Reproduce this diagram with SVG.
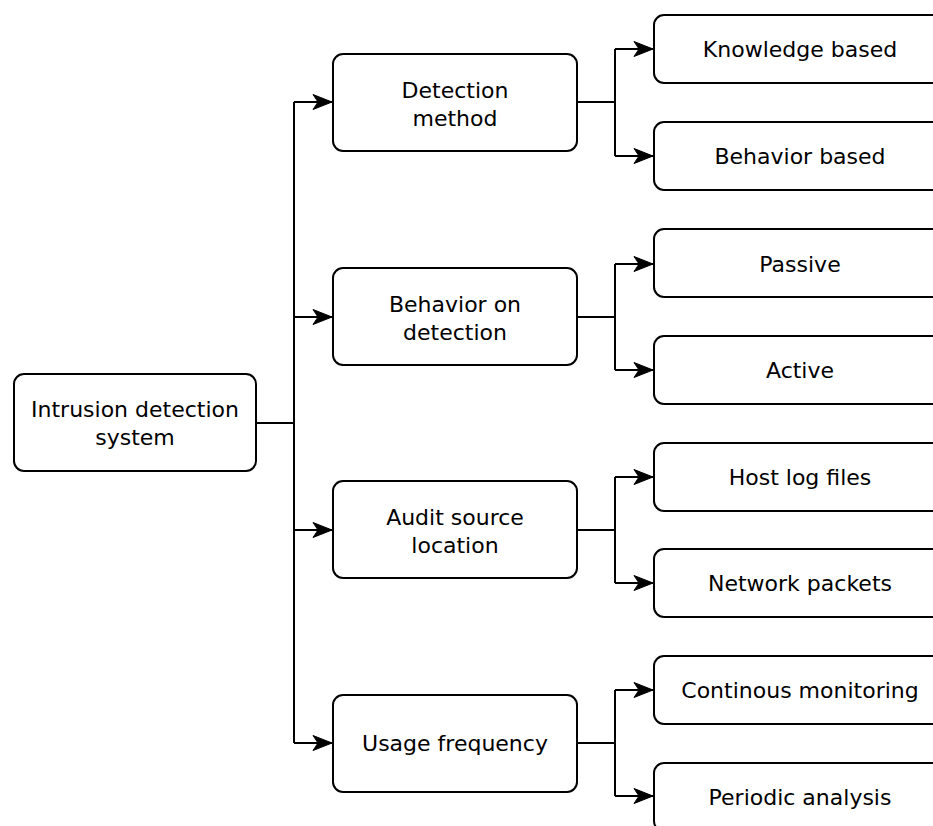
<svg xmlns="http://www.w3.org/2000/svg" width="933" height="826" viewBox="0 0 933 826">
  <style>
    .box { fill: #ffffff; stroke: #000000; stroke-width: 2; }
    .lbl { font-family: "DejaVu Sans", Verdana, sans-serif; font-size: 22px; fill: #000000; text-anchor: middle; }
    .edge { fill: none; stroke: #000000; stroke-width: 2; }
  </style>
  <defs>
    <marker id="arrow" viewBox="0 0 21 17" refX="20" refY="8.5" markerWidth="21" markerHeight="17" markerUnits="userSpaceOnUse" orient="auto">
      <path d="M1,1 L20,8.5 L1,16 L6,8.5 Z" fill="#000000" stroke="#000000" stroke-width="1"/>
    </marker>
  </defs>

  <g id="connectors">
    <!-- root to categories -->
    <path class="edge" d="M256,423 H294"/>
    <path class="edge" d="M294,102 V743"/>
    <path class="edge" d="M294,102 H332" marker-end="url(#arrow)"/>
    <path class="edge" d="M294,317 H332" marker-end="url(#arrow)"/>
    <path class="edge" d="M294,530 H332" marker-end="url(#arrow)"/>
    <path class="edge" d="M294,743 H332" marker-end="url(#arrow)"/>
    <!-- Detection method -->
    <path class="edge" d="M577,102 H615 M615,49 V156"/>
    <path class="edge" d="M615,49 H653" marker-end="url(#arrow)"/>
    <path class="edge" d="M615,156 H653" marker-end="url(#arrow)"/>
    <!-- Behavior on detection -->
    <path class="edge" d="M577,317 H615 M615,264 V370"/>
    <path class="edge" d="M615,264 H653" marker-end="url(#arrow)"/>
    <path class="edge" d="M615,370 H653" marker-end="url(#arrow)"/>
    <!-- Audit source location -->
    <path class="edge" d="M577,530 H615 M615,477 V583"/>
    <path class="edge" d="M615,477 H653" marker-end="url(#arrow)"/>
    <path class="edge" d="M615,583 H653" marker-end="url(#arrow)"/>
    <!-- Usage frequency -->
    <path class="edge" d="M577,743 H615 M615,690 V796"/>
    <path class="edge" d="M615,690 H653" marker-end="url(#arrow)"/>
    <path class="edge" d="M615,796 H653" marker-end="url(#arrow)"/>
  </g>

  <g id="ids">
    <rect class="box" x="14" y="374" width="242" height="97" rx="10"/>
    <text class="lbl" x="135" y="417">Intrusion detection</text>
    <text class="lbl" x="135" y="445">system</text>
  </g>

  <g id="detection-method">
    <rect class="box" x="333" y="54" width="244" height="97" rx="10"/>
    <text class="lbl" x="455" y="98">Detection</text>
    <text class="lbl" x="455" y="126">method</text>
  </g>
  <g id="behavior-on-detection">
    <rect class="box" x="333" y="268" width="244" height="97" rx="10"/>
    <text class="lbl" x="455" y="312">Behavior on</text>
    <text class="lbl" x="455" y="340">detection</text>
  </g>
  <g id="audit-source-location">
    <rect class="box" x="333" y="481" width="244" height="97" rx="10"/>
    <text class="lbl" x="455" y="525">Audit source</text>
    <text class="lbl" x="455" y="553">location</text>
  </g>
  <g id="usage-frequency">
    <rect class="box" x="333" y="695" width="244" height="97" rx="10"/>
    <text class="lbl" x="455" y="751">Usage frequency</text>
  </g>

  <g id="knowledge-based">
    <rect class="box" x="654" y="15" width="292" height="68" rx="10"/>
    <text class="lbl" x="800" y="57">Knowledge based</text>
  </g>
  <g id="behavior-based">
    <rect class="box" x="654" y="122" width="292" height="68" rx="10"/>
    <text class="lbl" x="800" y="164">Behavior based</text>
  </g>
  <g id="passive">
    <rect class="box" x="654" y="229" width="292" height="68" rx="10"/>
    <text class="lbl" x="800" y="272">Passive</text>
  </g>
  <g id="active">
    <rect class="box" x="654" y="336" width="292" height="68" rx="10"/>
    <text class="lbl" x="800" y="378">Active</text>
  </g>
  <g id="host-log-files">
    <rect class="box" x="654" y="443" width="292" height="68" rx="10"/>
    <text class="lbl" x="800" y="485">Host log files</text>
  </g>
  <g id="network-packets">
    <rect class="box" x="654" y="549" width="292" height="68" rx="10"/>
    <text class="lbl" x="800" y="591">Network packets</text>
  </g>
  <g id="continous-monitoring">
    <rect class="box" x="654" y="656" width="292" height="68" rx="10"/>
    <text class="lbl" x="800" y="698">Continous monitoring</text>
  </g>
  <g id="periodic-analysis">
    <rect class="box" x="654" y="763" width="292" height="68" rx="10"/>
    <text class="lbl" x="800" y="805">Periodic analysis</text>
  </g>
</svg>
